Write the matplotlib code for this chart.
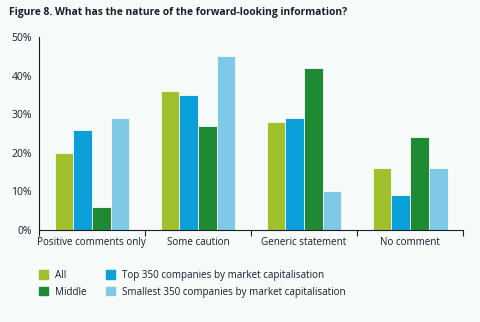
import numpy as np
import matplotlib.pyplot as plt
from matplotlib.patches import Patch

# values (percent)
categories = ["Positive comments only", "Some caution", "Generic statement", "No comment"]
all_cos = [20, 36, 28, 16]
top350 = [26, 35, 29, 9]
middle = [6, 27, 42, 24]
smallest350 = [29, 45, 10, 16]
yticks = [0, 10, 20, 30, 40, 50]

bg = "#f7fcfa"
txt = "#1c1c2c"
col_all = "#9fc12b"
col_top = "#0ba0d9"
col_mid = "#1f8a34"
col_small = "#7ec9e6"

plt.rcParams["font.family"] = ["Open Sans", "DejaVu Sans"]

fig = plt.figure(figsize=(4.8, 3.22), dpi=100, facecolor=bg)
ax = fig.add_axes([0.081, 0.286, 0.884, 0.599], facecolor=bg)

x = np.arange(len(categories))
w = 0.176
series = [(all_cos, col_all), (top350, col_top), (middle, col_mid), (smallest350, col_small)]
for i, (vals, c) in enumerate(series):
    ax.bar(x + (i - 1.5) * w, vals, width=w, color=c, edgecolor=bg, linewidth=0.6)

ax.set_xlim(-0.5, 3.5)
ax.set_ylim(0, 50)
ax.set_yticks(yticks)
ax.set_yticklabels([f"{t}%" for t in yticks], color=txt, fontsize=7.5)
ax.tick_params(axis="y", length=0, pad=5)

# category labels centred, ticks at the boundaries
ax.set_xticks(np.arange(-0.5, 4.0, 1.0))
ax.set_xticklabels([])
ax.set_xticks(x, minor=True)
ax.set_xticklabels(categories, minor=True, color=txt, fontsize=7.1)
ax.tick_params(axis="x", which="major", direction="out", length=4, width=0.8, color=txt)
ax.tick_params(axis="x", which="minor", length=0, pad=5)

for s in ["top", "right"]:
    ax.spines[s].set_visible(False)
for s in ["left", "bottom"]:
    ax.spines[s].set_color(txt)
    ax.spines[s].set_linewidth(0.8)

fig.text(0.019, 0.962, "Figure 8. What has the nature of the forward-looking information?",
         fontsize=7.4, fontweight="bold", color=txt, va="center")

handles = [Patch(color=col_all, label="All"), Patch(color=col_mid, label="Middle"),
           Patch(color=col_top, label="Top 350 companies by market capitalisation"),
           Patch(color=col_small, label="Smallest 350 companies by market capitalisation")]
fig.legend(handles=handles, ncol=2, loc="upper left", bbox_to_anchor=(0.062, 0.19),
           frameon=False, fontsize=7.1, handlelength=0.95, handleheight=0.95,
           handletextpad=0.75, columnspacing=1.9, labelspacing=0.6, labelcolor=txt)

fig.savefig("out.png", dpi=100, facecolor=bg)
